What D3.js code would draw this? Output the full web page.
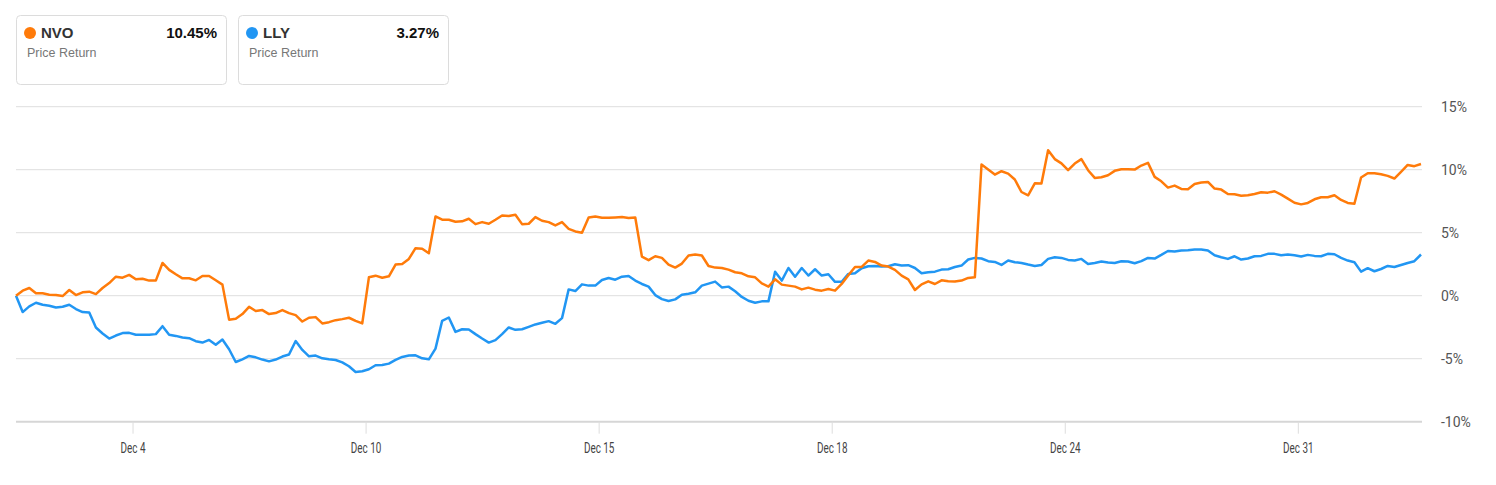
<!DOCTYPE html>
<html>
<head>
<meta charset="utf-8">
<script src="https://cdn.jsdelivr.net/npm/d3@7"></script>
<style>
  body { margin: 0; background: #fff; }
  svg { display: block; }
</style>
</head>
<body>
<div id="dataviz"></div>
<script>
// ---- data (percent price return, one value per interval) ----
var nvo = [
  0, 0.4, 0.61, 0.19, 0.19, 0.08, 0.05, -0.03, 0.45, 0.05,
  0.27, 0.32, 0.13, 0.61, 1.0, 1.51, 1.43, 1.65, 1.3, 1.35,
  1.2, 1.2, 2.6, 2.05, 1.7, 1.38, 1.38, 1.22, 1.57, 1.57,
  1.22, 0.88, -1.9, -1.83, -1.46, -0.88, -1.22, -1.14, -1.46, -1.38,
  -1.14, -1.38, -1.54, -2.05, -1.75, -1.7, -2.2, -2.1, -1.94, -1.86,
  -1.75, -2.0, -2.2, 1.46, 1.59, 1.43, 1.54, 2.47, 2.52, 2.92,
  3.77, 3.72, 3.37, 6.29, 6.03, 6.03, 5.87, 5.9, 6.11, 5.68,
  5.84, 5.71, 6.03, 6.37, 6.32, 6.43, 5.68, 5.71, 6.24, 5.95,
  5.84, 5.58, 5.84, 5.31, 5.1, 5.0, 6.2, 6.29, 6.19, 6.19,
  6.21, 6.24, 6.16, 6.2, 3.1, 2.82, 3.13, 3.0, 2.47, 2.23,
  2.55, 3.19, 3.27, 3.19, 2.36, 2.23, 2.2, 2.07, 1.86, 1.78,
  1.54, 1.46, 0.98, 0.72, 1.3, 0.88, 0.8, 0.72, 0.5, 0.64,
  0.48, 0.4, 0.53, 0.4, 0.93, 1.62, 2.28, 2.28, 2.79, 2.68,
  2.39, 2.31, 2.05, 1.59, 1.3, 0.45, 0.9, 1.14, 0.93, 1.22,
  1.14, 1.12, 1.2, 1.41, 1.46, 10.41, 10.01, 9.61, 9.88, 9.69,
  9.22, 8.23, 7.97, 8.92, 8.9, 11.55, 10.84, 10.5, 9.96, 10.49,
  10.84, 9.96, 9.35, 9.4, 9.56, 9.91, 10.04, 10.04, 10.01, 10.33,
  10.54, 9.43, 9.08, 8.58, 8.74, 8.47, 8.45, 8.87, 8.98, 9.03,
  8.5, 8.42, 8.07, 8.05, 7.94, 7.97, 8.07, 8.21, 8.18, 8.29,
  8.02, 7.7, 7.38, 7.25, 7.36, 7.65, 7.81, 7.81, 7.97, 7.6,
  7.36, 7.3, 9.38, 9.72, 9.72, 9.64, 9.51, 9.3, 9.83, 10.38,
  10.28, 10.45
];
var lly = [
  0, -1.3, -0.85, -0.56, -0.72, -0.8, -0.93, -0.88, -0.72, -1.06,
  -1.3, -1.33, -2.52, -3.0, -3.4, -3.16, -2.97, -2.95, -3.1, -3.1,
  -3.1, -3.05, -2.42, -3.1, -3.19, -3.32, -3.37, -3.61, -3.72, -3.51,
  -3.9, -3.48, -4.25, -5.26, -5.05, -4.78, -4.89, -5.07, -5.21, -5.07,
  -4.83, -4.67, -3.6, -4.3, -4.81, -4.75, -4.97, -5.05, -5.1, -5.29,
  -5.6, -6.06, -6.0, -5.84, -5.52, -5.5, -5.39, -5.1, -4.86, -4.75,
  -4.73, -4.97, -5.05, -4.2, -1.99, -1.73, -2.87, -2.66, -2.68, -3.05,
  -3.4, -3.72, -3.53, -3.05, -2.52, -2.71, -2.66, -2.47, -2.28, -2.15,
  -2.02, -2.23, -1.78, 0.5, 0.37, 0.9, 0.8, 0.8, 1.25, 1.41,
  1.27, 1.51, 1.57, 1.2, 0.93, 0.72, 0.05, -0.27, -0.42, -0.29,
  0.08, 0.16, 0.27, 0.8, 0.96, 1.12, 0.66, 0.72, 0.35, -0.1,
  -0.4, -0.56, -0.45, -0.45, 1.9, 1.2, 2.2, 1.5, 2.2, 1.6,
  2.1, 1.6, 1.7, 1.1, 1.1, 1.73, 1.78, 2.18, 2.34, 2.36,
  2.31, 2.34, 2.5, 2.39, 2.42, 2.2, 1.78, 1.86, 1.91, 2.07,
  2.1, 2.28, 2.39, 2.87, 3.0, 2.95, 2.74, 2.68, 2.44, 2.79,
  2.66, 2.6, 2.47, 2.36, 2.44, 2.92, 3.05, 3.0, 2.84, 2.79,
  2.92, 2.52, 2.6, 2.71, 2.63, 2.6, 2.74, 2.71, 2.58, 2.74,
  3.0, 2.95, 3.24, 3.55, 3.5, 3.59, 3.61, 3.67, 3.67, 3.59,
  3.21, 3.05, 2.92, 3.13, 2.87, 2.95, 3.13, 3.16, 3.32, 3.32,
  3.21, 3.27, 3.21, 3.11, 3.24, 3.16, 3.13, 3.32, 3.29, 3.0,
  2.79, 2.66, 1.91, 2.18, 1.94, 2.12, 2.36, 2.28, 2.44, 2.6,
  2.74, 3.27
];
var tickLabels = ["Dec 4", "Dec 10", "Dec 15", "Dec 18", "Dec 24", "Dec 31"];
var tickIndex = [17.5, 52.5, 87.5, 122.5, 157.5, 192.5];
var yTicks = [15, 10, 5, 0, -5, -10];
var seriesNames = ["NVO", "LLY"];
var seriesColors = ["#ff7b0a", "#2196f3"];
var seriesTotals = ["10.45%", "3.27%"];

// plot box ("top" is a reserved window prop, so use other names)
var W = 1496, H = 485;
var plotLeft = 16, plotRight = 1421, plotTop = 106.7, plotBottom = 421.7;

var svg = d3.select("#dataviz").append("svg")
    .attr("width", W)
    .attr("height", H);

var xScale = d3.scaleLinear()
    .domain([0, nvo.length - 1])
    .range([plotLeft, plotRight]);

var yScale = d3.scaleLinear()
    .domain([-10, 15])
    .range([plotBottom, plotTop]);

// grid lines + right labels
var grid = svg.append("g");
yTicks.forEach(function(t) {
    grid.append("line")
        .attr("x1", plotLeft).attr("x2", plotRight + 1)
        .attr("y1", yScale(t)).attr("y2", yScale(t))
        .attr("stroke", t == -10 ? "#d6d6d6" : "#dedede")
        .attr("stroke-width", t == -10 ? 2 : 1);
    grid.append("text")
        .attr("x", 1441)
        .attr("y", yScale(t) + 5)
        .attr("font-family", "Roboto, sans-serif")
        .attr("font-size", "14px")
        .attr("fill", "#555")
        .text(t + "%");
});

// x axis ticks
var xAxis = d3.axisBottom(xScale)
    .tickValues(tickIndex)
    .tickFormat(function(d, i) { return tickLabels[i]; })
    .tickSize(12)
    .tickPadding(9);

var gx = svg.append("g")
    .attr("transform", "translate(0," + plotBottom + ")")
    .call(xAxis);
gx.select(".domain").remove();
gx.selectAll(".tick line").attr("stroke", "#ddd");
gx.selectAll(".tick text")
    .attr("font-family", "Roboto, sans-serif")
    .attr("font-size", "15px")
    .attr("fill", "#444")
    .attr("transform", "scale(0.66,1)");

// lines
var line = d3.line()
    .x(function(d, i) { return xScale(i); })
    .y(function(d) { return yScale(d); });

svg.append("path")
    .datum(lly)
    .attr("fill", "none")
    .attr("stroke", seriesColors[1])
    .attr("stroke-width", 2.5)
    .attr("stroke-linejoin", "round")
    .attr("d", line);

svg.append("path")
    .datum(nvo)
    .attr("fill", "none")
    .attr("stroke", seriesColors[0])
    .attr("stroke-width", 2.5)
    .attr("stroke-linejoin", "round")
    .attr("d", line);

// legend cards
seriesNames.forEach(function(name, i) {
    var x0 = 16.5 + i * 222;
    var card = svg.append("g").attr("transform", "translate(" + x0 + ",15.5)");
    card.append("rect")
        .attr("width", 210).attr("height", 69)
        .attr("rx", 4)
        .attr("fill", "#fff")
        .attr("stroke", "#dcdcdc");
    card.append("circle")
        .attr("cx", 13.5).attr("cy", 17.5).attr("r", 6)
        .attr("fill", seriesColors[i]);
    card.append("text")
        .attr("x", 24.5).attr("y", 22.8)
        .attr("font-family", "Liberation Sans, Arial, sans-serif")
        .attr("font-size", "15px")
        .attr("font-weight", "bold")
        .attr("fill", "#333")
        .text(name);
    card.append("text")
        .attr("x", 200.5).attr("y", 22.8)
        .attr("text-anchor", "end")
        .attr("font-family", "Liberation Sans, Arial, sans-serif")
        .attr("font-size", "15px")
        .attr("font-weight", "bold")
        .attr("fill", "#111")
        .text(seriesTotals[i]);
    card.append("text")
        .attr("x", 10.5).attr("y", 41.8)
        .attr("font-family", "Liberation Sans, Arial, sans-serif")
        .attr("font-size", "12.5px")
        .attr("fill", "#777")
        .text("Price Return");
});
</script>
</body>
</html>
